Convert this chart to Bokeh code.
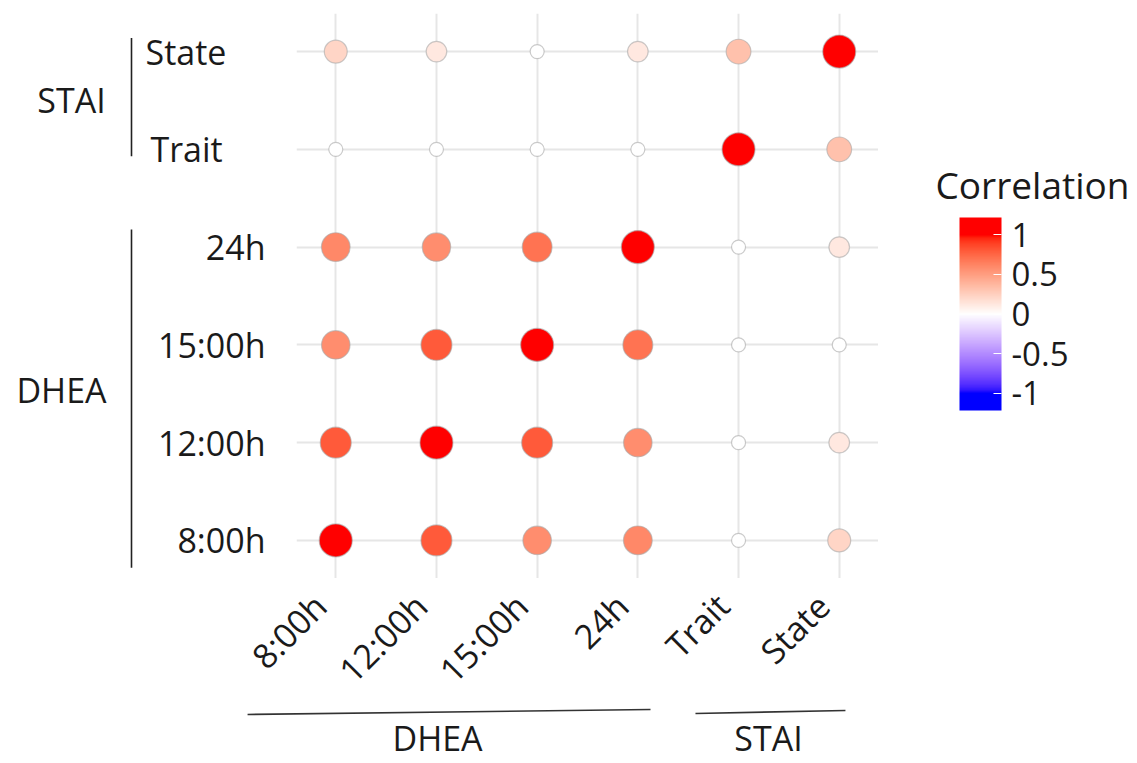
import math
from bokeh.plotting import figure
from bokeh.layouts import row, column
from bokeh.models import (ColumnDataSource, LinearColorMapper, ColorBar, FixedTicker,
                          FactorRange, Range1d)
from bokeh.core.properties import value
from bokeh.embed import file_html
from bokeh.resources import INLINE

# ---------------- data ----------------
labels = ["8:00h", "12:00h", "15:00h", "24h", "Trait", "State"]
dhea_items = ["8:00h", "12:00h", "15:00h", "24h"]
stai_items = ["Trait", "State"]
# correlation of the row variable (y) with each column variable (x, in `labels` order)
corr_8h = [1.00, 0.80, 0.58, 0.60, 0.00, 0.22]
corr_12h = [0.80, 1.00, 0.80, 0.58, 0.00, 0.12]
corr_15h = [0.58, 0.80, 1.00, 0.70, 0.00, 0.00]
corr_24h = [0.60, 0.58, 0.70, 1.00, 0.00, 0.12]
corr_trait = [0.00, 0.00, 0.00, 0.00, 1.00, 0.32]
corr_state = [0.22, 0.12, 0.00, 0.12, 0.32, 1.00]
rows = {"8:00h": corr_8h, "12:00h": corr_12h, "15:00h": corr_15h,
        "24h": corr_24h, "Trait": corr_trait, "State": corr_state}
cbar_ticks = [-1, -0.5, 0, 0.5, 1]
cbar_tick_labels = ["-1", "-0.5", "0", "0.5", "1"]

# ---------------- colour scale (Lab interpolation blue-white-red) ----------------
def _lin(c):
    c = c / 255.0
    return c / 12.92 if c <= 0.04045 else ((c + 0.055) / 1.055) ** 2.4

def _gam(c):
    c = max(0.0, min(1.0, c))
    return 12.92 * c if c <= 0.0031308 else 1.055 * c ** (1 / 2.4) - 0.055

def rgb2lab(rgb):
    r, g, b = [_lin(v) for v in rgb]
    X = (0.4124 * r + 0.3576 * g + 0.1805 * b) / 0.95047
    Y = (0.2126 * r + 0.7152 * g + 0.0722 * b)
    Z = (0.0193 * r + 0.1192 * g + 0.9505 * b) / 1.08883
    f = lambda t: t ** (1 / 3) if t > 0.008856 else 7.787 * t + 16 / 116
    fx, fy, fz = f(X), f(Y), f(Z)
    return (116 * fy - 16, 500 * (fx - fy), 200 * (fy - fz))

def lab2hex(lab):
    L, a, b = lab
    fy = (L + 16) / 116
    fx = fy + a / 500
    fz = fy - b / 200
    finv = lambda t: t ** 3 if t ** 3 > 0.008856 else (t - 16 / 116) / 7.787
    X, Y, Z = 0.95047 * finv(fx), finv(fy), 1.08883 * finv(fz)
    r = 3.2406 * X - 1.5372 * Y - 0.4986 * Z
    g = -0.9689 * X + 1.8758 * Y + 0.0415 * Z
    bb = 0.0557 * X - 0.2040 * Y + 1.0570 * Z
    return "#%02x%02x%02x" % tuple(int(round(_gam(v) * 255)) for v in (r, g, bb))

lab_w, lab_r, lab_b = rgb2lab((255, 255, 255)), rgb2lab((255, 0, 0)), rgb2lab((0, 0, 255))

def color_at(t):
    t = max(-1.0, min(1.0, t))
    end = lab_r if t >= 0 else lab_b
    k = abs(t)
    return lab2hex(tuple(lab_w[j] + (end[j] - lab_w[j]) * k for j in range(3)))

N = 255
palette = [color_at(-1 + 2 * i / (N - 1)) for i in range(N)]
mapper = LinearColorMapper(palette=palette, low=-1, high=1)
# the legend bar runs a little beyond +-1 (as in the original), colours clamp there
BAR_LIM = 1.22
bar_palette = [color_at(-BAR_LIM + 2 * BAR_LIM * i / (N - 1)) for i in range(N)]
bar_mapper = LinearColorMapper(palette=bar_palette, low=-BAR_LIM, high=BAR_LIM)

# ---------------- long-form source ----------------
xs, ys, rs, sizes = [], [], [], []
for ylab, vals in rows.items():
    for xlab, r in zip(labels, vals):
        xs.append(xlab)
        ys.append(ylab)
        rs.append(r)
        sizes.append(14 + 19 * math.sqrt(abs(r)))
src = ColumnDataSource(dict(x=xs, y=ys, r=rs, size=sizes))

FONT = "Open Sans"
TXT = "#1a1a1a"
FS = "34px"

# ---------------- layout sizes ----------------
TOP_H = 578          # frame bottom of the matrix
BOT_H = 184
LEFT_W = 296
FRAME_W = 582
LEG_W = 1137 - LEFT_W - FRAME_W
B_TOP = 13
PAD = -0.11          # factor padding of the matrix ranges
UNIT = FRAME_W / (len(labels) + 2 * PAD)
FIRST_X = LEFT_W + (0.5 + PAD) * UNIT        # page x of the first column
BOT_PAD = 1.5
BOT_L = round(FIRST_X - (0.5 + BOT_PAD) * UNIT)
BOT_FW = round((len(labels) + 2 * BOT_PAD) * UNIT)

def at_px(px):
    """page-x position expressed as an offset from the first column factor"""
    return (labels[0], (px - FIRST_X) / UNIT)

def bare(width, height, **kw):
    f = figure(width=width, height=height, output_backend="svg", toolbar_location=None,
               x_axis_location=None, y_axis_location=None, **kw)
    f.grid.visible = False
    f.outline_line_color = None
    return f

x_range = FactorRange(factors=labels, range_padding=PAD, range_padding_units="absolute")
y_range = FactorRange(factors=labels, range_padding=PAD, range_padding_units="absolute")

# ---------------- main dot matrix ----------------
p = bare(FRAME_W, TOP_H, x_range=x_range, y_range=y_range,
         min_border_left=0, min_border_right=0, min_border_top=B_TOP, min_border_bottom=0)
p.grid.visible = True
for g in (p.xgrid, p.ygrid):
    g.grid_line_color = "#e6e6e6"
    g.grid_line_width = 2

p.scatter(x="x", y="y", size="size", source=src,
          fill_color={"field": "r", "transform": mapper},
          line_color="#a8a8a8", line_alpha=0.6, line_width=1.2)

# ---------------- left: row labels and group brackets ----------------
left = bare(LEFT_W, TOP_H, x_range=Range1d(0, LEFT_W), y_range=y_range,
            min_border_left=0, min_border_right=0, min_border_top=B_TOP, min_border_bottom=0)
left.text(x=[265] * len(dhea_items), y=dhea_items, text=dhea_items,
          text_font=value(FONT), text_font_size=FS, text_color=TXT,
          text_align="right", text_baseline="middle")
left.text(x=[150, 145], y=stai_items, text=stai_items,
          text_font=value(FONT), text_font_size=FS, text_color=TXT,
          text_align="left", text_baseline="middle")
left.text(x=[71, 61], y=[("Trait", 0.5), ("12:00h", 0.54)], text=["STAI", "DHEA"],
          text_font=value(FONT), text_font_size=FS, text_color=TXT,
          text_align="center", text_baseline="middle")
left.segment(x0=[131, 131], x1=[131, 131],
             y0=[("State", 0.14), ("24h", 0.18)], y1=[("Trait", -0.07), ("8:00h", -0.28)],
             line_color="#222222", line_width=1.6)

# ---------------- right: colour bar ----------------
leg = bare(LEG_W, TOP_H, x_range=Range1d(0, LEG_W), y_range=Range1d(TOP_H, B_TOP),
           min_border_left=0, min_border_right=0, min_border_top=B_TOP, min_border_bottom=0)
leg.text(x=[57], y=[184], text=["Correlation"], text_font=value(FONT),
         text_font_size="37px", text_color=TXT, text_align="left", text_baseline="alphabetic")
cb = ColorBar(color_mapper=bar_mapper, ticker=FixedTicker(ticks=cbar_ticks),
              major_label_overrides=dict(zip(cbar_ticks, cbar_tick_labels)),
              width=42, height=193,
              major_label_text_font=FONT, major_label_text_font_size="33px",
              major_label_text_color=TXT, label_standoff=10,
              major_tick_line_color="white", major_tick_in=8, major_tick_out=0,
              minor_tick_line_color=None, bar_line_color=None,
              background_fill_alpha=0, padding=0,
              location=(81, TOP_H - 410))
leg.add_layout(cb, "center")

# ---------------- bottom: column labels and group labels ----------------
bot = bare(1137, BOT_H,
           x_range=FactorRange(factors=labels, range_padding=BOT_PAD, range_padding_units="absolute"),
           y_range=Range1d(BOT_H, 0),
           min_border_left=BOT_L, min_border_right=1137 - BOT_L - BOT_FW,
           min_border_top=0, min_border_bottom=0)
bot.text(x=labels, y=[5] * len(labels), text=labels, angle=math.pi / 4, x_offset=-32,
         text_font=value(FONT), text_font_size=FS, text_color=TXT,
         text_align="right", text_baseline="top")
bot.segment(x0=[at_px(247), at_px(695)], y0=[136, 135],
            x1=[at_px(650), at_px(845)], y1=[131, 132],
            line_color="#333333", line_width=1.6)
bot.text(x=[at_px(437), at_px(768)], y=[182, 182], text=["DHEA", "STAI"], text_font=value(FONT),
         text_font_size=FS, text_color=TXT, text_align="center", text_baseline="bottom")

layout = column(row(left, p, leg), bot)
open("out.html", "w").write(file_html(layout, INLINE))
